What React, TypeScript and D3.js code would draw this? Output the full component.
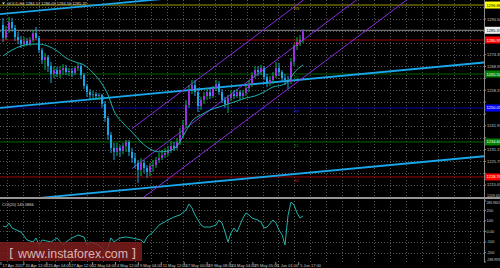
import React from 'react';
import * as d3 from 'd3';

// ---------- data ----------
const headerText = 'GOLD,H4  1284.57 1286.09 1284.56 1285.37';
const cciTitle = 'CCI(20) 145.5866';

const opens = [1287.8,1281.9,1285.5,1289.1,1286.4,1282.3,1281.0,1279.1,1280.5,1279.1,1281.0,1284.1,1281.9,1276.4,1271.9,1273.2,1269.1,1265.5,1267.3,1265.5,1267.3,1268.2,1266.4,1266.9,1266.0,1268.2,1269.1,1265.0,1260.1,1257.3,1256.0,1256.4,1255.5,1256.0,1251.9,1245.5,1237.8,1231.9,1230.1,1231.9,1230.5,1232.8,1234.6,1230.1,1227.3,1225.1,1221.9,1225.1,1222.8,1221.0,1223.7,1224.1,1226.4,1227.3,1228.7,1229.6,1231.0,1232.8,1231.9,1234.6,1237.8,1242.3,1251.4,1258.2,1260.5,1257.3,1251.0,1253.7,1255.5,1257.3,1255.5,1259.1,1261.0,1257.3,1253.7,1251.9,1254.6,1256.4,1255.5,1257.3,1255.5,1256.9,1259.1,1261.0,1265.0,1267.3,1266.4,1268.2,1264.1,1261.4,1262.8,1264.6,1268.2,1266.4,1263.7,1262.8,1261.9,1271.0,1278.2,1280.0,1281.0];
const highs = [1291.0,1287.3,1291.4,1291.0,1287.8,1284.6,1282.8,1282.3,1281.9,1282.3,1285.5,1286.9,1282.8,1277.3,1275.0,1274.1,1271.0,1269.1,1268.7,1269.1,1270.0,1269.6,1268.2,1268.2,1269.1,1270.5,1270.0,1266.0,1261.0,1258.7,1257.8,1257.3,1256.9,1256.4,1253.2,1246.4,1239.1,1234.1,1234.1,1233.2,1234.1,1235.5,1235.5,1231.9,1229.6,1226.4,1227.3,1226.4,1224.1,1225.1,1226.4,1227.8,1229.6,1231.0,1231.9,1232.8,1235.1,1234.6,1236.4,1241.0,1244.6,1253.7,1260.5,1262.8,1262.8,1259.1,1255.1,1257.3,1259.1,1258.7,1260.1,1262.8,1262.3,1258.7,1255.1,1256.0,1258.2,1258.2,1258.7,1258.2,1258.2,1261.0,1262.8,1266.4,1269.1,1269.1,1269.6,1269.1,1265.5,1264.6,1266.4,1271.0,1270.5,1267.3,1265.5,1264.6,1272.8,1279.1,1282.3,1283.2,1285.9];
const lows = [1280.0,1281.0,1284.1,1285.0,1280.5,1279.1,1277.3,1277.8,1278.2,1278.2,1280.0,1281.0,1275.0,1270.0,1267.3,1266.4,1261.4,1263.7,1264.1,1263.7,1265.0,1265.0,1264.6,1264.1,1265.0,1266.9,1263.2,1258.7,1255.1,1254.1,1253.7,1254.1,1253.7,1250.1,1243.7,1235.5,1229.6,1226.4,1228.2,1227.8,1229.1,1230.1,1228.2,1225.1,1222.8,1216.0,1219.1,1220.5,1218.2,1219.1,1221.0,1222.8,1225.1,1226.4,1227.3,1228.2,1229.6,1230.5,1231.0,1233.2,1236.4,1241.0,1250.1,1256.4,1255.5,1248.2,1249.1,1251.9,1253.7,1254.1,1254.6,1257.8,1256.0,1252.3,1250.1,1247.8,1253.2,1254.1,1254.6,1253.7,1254.1,1255.5,1257.3,1259.6,1263.7,1264.6,1265.0,1262.8,1259.6,1260.1,1261.0,1263.7,1264.6,1261.9,1260.5,1258.7,1261.0,1269.1,1276.4,1278.2,1279.6];
const closes = [1281.9,1285.5,1289.1,1286.4,1282.3,1281.0,1279.1,1280.5,1279.1,1281.0,1284.1,1281.9,1276.4,1271.9,1273.2,1269.1,1265.5,1267.3,1265.5,1267.3,1268.2,1266.4,1266.9,1266.0,1268.2,1269.1,1265.0,1260.1,1257.3,1256.0,1256.4,1255.5,1256.0,1251.9,1245.5,1237.8,1231.9,1230.1,1231.9,1230.5,1232.8,1234.6,1230.1,1227.3,1225.1,1221.9,1225.1,1222.8,1221.0,1223.7,1224.1,1226.4,1227.3,1228.7,1229.6,1231.0,1232.8,1231.9,1234.6,1237.8,1242.3,1251.4,1258.2,1260.5,1257.3,1251.0,1253.7,1255.5,1257.3,1255.5,1259.1,1261.0,1257.3,1253.7,1251.9,1254.6,1256.4,1255.5,1257.3,1255.5,1256.9,1259.1,1261.0,1265.0,1267.3,1266.4,1268.2,1264.1,1261.4,1262.8,1264.6,1268.2,1266.4,1263.7,1262.8,1261.9,1271.0,1278.2,1280.0,1281.0,1285.4];

const maBars = [0,3,6,9,12,15,18,21,24,27,30,33,35,37,40,43,46,49,52,55,58,61,63,66,69,72,75,78,81,84,87,90,93,95,97,100];
const maValues = [1273.7,1276.4,1278.2,1279.1,1279.1,1278.2,1276.0,1272.8,1271.0,1269.6,1266.0,1261.0,1256.0,1248.7,1243.2,1239.1,1234.6,1231.4,1230.1,1230.5,1232.8,1239.6,1244.1,1246.9,1249.1,1250.5,1251.9,1253.2,1254.6,1255.5,1257.3,1259.6,1260.5,1261.9,1266.0,1269.6];

const cciBars = [0,1,2,3,6,8,10,11,12,13,16,18,20,21,23,25,27,28,29,30,32,34,35,36,37,39,41,43,46,47,48,50,52,55,57,59,61,62,63,64,66,67,69,71,72,73,74,75,76,77,78,80,81,82,83,85,86,87,88,90,91,92,93,94,95,96,97,98,99,100];
const cciValues = [51,41,79,32,-6,-81,-100,-62,-128,-81,-100,-62,-128,-100,-62,-34,-53,-128,-100,-109,-128,-190,-150,-62,-100,-62,-53,-62,-81,-109,-53,-6,60,107,136,155,202,259,221,155,60,41,41,60,107,79,-6,-100,-15,32,-6,126,174,155,126,107,88,32,41,107,79,13,-30,-128,150,277,250,174,126,145.59];

const priceTicks = [1295.90,1290.50,1285.10,1279.75,1274.35,1268.95,1263.55,1258.15,1252.75,1247.35,1241.95,1236.55,1231.15,1225.75,1220.40,1215.05];
const mainBottomLabel = '1209.65';

const pivotNames = ['R3','R2','R1','PP','S1','S2'];
const pivotValues = [1296.86,1280.95,1265.50,1250.05,1234.60,1218.70];
const bidPrice = 1285.37;

// wide cyan channel (bar, price) anchors of the median line; offset of the outer lines
const cyanBars = [0,100];
const cyanMid = [1250.2,1263.0];
const cyanOffset = 42.6;

// purple channel anchors
const purpleBars = [43,100];
const purpleTop = [1240.7,1299.0];
const purpleMid = [1222.5,1280.9];
const purpleLow = [1205.5,1263.8];

const cciTickValues = [286.96,200,100,0,-100,-200,-288.99];
const cciTickLabels = ['286.9605','200','100','0.00','-100','-200','-288.9935'];
const cciGridValues = [200,100,0,-100,-200];

const timeLabels = ['17 Apr 2017','20 Apr 12:00','25 Apr 04:00','27 Apr 12:00','2 May 04:00','4 May 12:00','9 May 04:00','11 May 12:00','17 May 00:00','19 May 08:00','24 May 04:00','29 May 05:00','1 Jun 01:00','5 Jun 17:00'];

// ---------- styles ----------
const pivotLine = ['#9a9a00','#a00000','#006400','#0000a0','#006400','#a00000'];
const pivotBg = ['#ffff00','#ff0000','#008000','#0000ff','#008000','#ff0000'];
const pivotFg = ['#000','#fff','#fff','#fff','#fff','#fff'];
const pivotTxt = ['#b0b000','#d02020','#008000','#2020ff','#008000','#d02020'];

const BULL_BODY = '#9b30e0';
const BULL_WICK = '#00b84a';
const BEAR = '#1ea4e4';
const CYAN_LINE = '#1aa6ea';
const PURPLE = '#8a2be2';
const MA_COLOR = '#20b2aa';
const GRID = '#555';
const AXIS_TXT = '#c8c8c8';
const FONT = 'Liberation Sans, Arial, sans-serif';

const PLOT_R = 484;
const MAIN_T = 0;
const MAIN_B = 197;
const CCI_T = 201;
const CCI_B = 262;

export default function App() {
  React.useEffect(() => {
    document.body.style.margin = '0';
    document.body.style.background = '#000';
  }, []);

  const x = d3.scaleLinear().domain([0, 100]).range([3, 303]);
  const y = d3.scaleLinear().domain([1209.59, 1299.14]).range([MAIN_B, MAIN_T]);
  const yc = d3.scaleLinear().domain([-288.99, 286.96]).range([CCI_B, CCI_T]);
  const lastBar = x.invert(PLOT_R);
  const firstBar = x.invert(0);

  const seg = (bars: number[], vals: number[], from: number, to: number) => {
    const s = (vals[1] - vals[0]) / (bars[1] - bars[0]);
    const at = (b: number) => vals[0] + s * (b - bars[0]);
    return { x1: x(from), y1: y(at(from)), x2: x(to), y2: y(at(to)) };
  };

  const vGrid = d3.range(0, 30).map(k => 7.3 + 15.95 * k).filter(v => v < PLOT_R);

  const maLine = d3.line<number>()
    .x((_, k) => x(maBars[k]))
    .y(v => y(v))
    .curve(d3.curveMonotoneX);

  const cciLine = d3.line<number>()
    .x((_, k) => x(cciBars[k]))
    .y(v => yc(v));

  const cyanLines = [-cyanOffset, 0, cyanOffset].map(off =>
    seg(cyanBars, cyanMid.map(v => v + off), firstBar, lastBar));
  const purpleLines = [purpleTop, purpleMid, purpleLow].map(v => seg(purpleBars, v, purpleBars[0], lastBar));

  // tick labels hidden where a coloured price label sits on top of them
  const covered = (p: number) =>
    pivotValues.concat([bidPrice]).some(v => Math.abs(y(v) - y(p)) < 6);

  return (
    <svg width={500} height={268} style={{ position: 'fixed', left: 0, top: 0, background: '#000' }} fontFamily={FONT}>
      <defs>
        <clipPath id="mainClip"><rect x={0} y={MAIN_T} width={PLOT_R} height={MAIN_B - MAIN_T} /></clipPath>
        <clipPath id="cciClip"><rect x={0} y={CCI_T - 1} width={PLOT_R} height={CCI_B - CCI_T + 1} /></clipPath>
      </defs>
      <rect x={0} y={0} width={500} height={268} fill="#000" />

      {/* grid main */}
      <g stroke={GRID} strokeWidth={1} strokeDasharray="1,2">
        {priceTicks.map((p, i) => (
          <line key={'hg' + i} x1={0} x2={PLOT_R} y1={Math.round(y(p)) + 0.5} y2={Math.round(y(p)) + 0.5} />
        ))}
        {vGrid.map((gx, i) => (
          <line key={'vg' + i} x1={Math.round(gx) + 0.5} x2={Math.round(gx) + 0.5} y1={MAIN_T} y2={MAIN_B} />
        ))}
        {cciGridValues.map((v, i) => (
          <line key={'cg' + i} x1={0} x2={PLOT_R} y1={Math.round(yc(v)) + 0.5} y2={Math.round(yc(v)) + 0.5} />
        ))}
        {vGrid.map((gx, i) => (
          <line key={'vc' + i} x1={Math.round(gx) + 0.5} x2={Math.round(gx) + 0.5} y1={CCI_T} y2={CCI_B} />
        ))}
      </g>

      <g clipPath="url(#mainClip)">
        {/* pivot lines */}
        {pivotValues.map((p, i) => (
          <line key={'pv' + i} x1={0} x2={PLOT_R} y1={y(p)} y2={y(p)} stroke={pivotLine[i]} strokeWidth={1} />
        ))}
        {/* bid line */}
        <line x1={0} x2={PLOT_R} y1={y(bidPrice)} y2={y(bidPrice)} stroke="#8c8c8c" strokeWidth={1} />

        {/* cyan wide channel */}
        {cyanLines.map((l, i) => (
          <line key={'cy' + i} {...l} stroke={CYAN_LINE} strokeWidth={1.8} />
        ))}
        {/* purple channel */}
        {purpleLines.map((l, i) => (
          <line key={'pu' + i} {...l} stroke={PURPLE} strokeWidth={1} />
        ))}

        {/* candles */}
        {opens.map((o, i) => {
          const c = closes[i];
          const bull = c >= o;
          const cx = x(i);
          const top = y(Math.max(o, c));
          const bot = y(Math.min(o, c));
          return (
            <g key={'c' + i}>
              <line x1={cx} x2={cx} y1={y(highs[i])} y2={y(lows[i])} stroke={bull ? BULL_WICK : BEAR} strokeWidth={1} />
              <rect x={cx - 1} y={top} width={2} height={Math.max(1, bot - top)} fill={bull ? BULL_BODY : BEAR} />
            </g>
          );
        })}

        {/* moving average */}
        <path d={maLine(maValues) || ''} fill="none" stroke={MA_COLOR} strokeWidth={1} />

        {/* pivot labels on chart */}
        {pivotValues.map((p, i) => (
          <text key={'pl' + i} x={294} y={y(p) + 5} fontSize={4} fill={pivotTxt[i]}>{pivotNames[i]}</text>
        ))}
      </g>

      {/* header */}
      <path d="M2,2.5 L5,2.5 L3.5,4.5 Z" fill="#ddd" />
      <text x={7} y={5} fontSize={4} fill="#ddd">{headerText}</text>

      {/* separators */}
      <line x1={0} x2={500} y1={198} y2={198} stroke="#c8c8c8" strokeWidth={1.5} />
      <line x1={PLOT_R + 0.5} x2={PLOT_R + 0.5} y1={0} y2={CCI_B} stroke="#8a8a8a" strokeWidth={1} />

      {/* price axis labels */}
      {priceTicks.map((p, i) => (
        <g key={'pt' + i}>
          <line x1={PLOT_R} x2={PLOT_R + 2} y1={y(p)} y2={y(p)} stroke="#8a8a8a" />
          {!covered(p) && (
            <text x={487} y={y(p) + 1.5} fontSize={4} fill={AXIS_TXT}>{p.toFixed(2)}</text>
          )}
        </g>
      ))}
      <text x={487} y={196.5} fontSize={3.6} fill={AXIS_TXT}>{mainBottomLabel}</text>

      {/* pivot axis labels */}
      {pivotValues.map((p, i) => (
        <g key={'pa' + i}>
          <rect x={PLOT_R + 1} y={y(p) - 3.5} width={15} height={7} fill={pivotBg[i]} />
          <text x={486.5} y={y(p) + 1.5} fontSize={4} fill={pivotFg[i]}>{p.toFixed(2)}</text>
        </g>
      ))}
      <rect x={PLOT_R + 1} y={y(bidPrice) - 3.5} width={15} height={7} fill="#f0f0f0" />
      <text x={486.5} y={y(bidPrice) + 1.5} fontSize={4} fill="#000">{bidPrice.toFixed(2)}</text>

      {/* CCI */}
      <g clipPath="url(#cciClip)">
        <path d={cciLine(cciValues) || ''} fill="none" stroke={MA_COLOR} strokeWidth={1} />
      </g>
      <text x={2} y={206} fontSize={4} fill="#ddd">{cciTitle}</text>
      {cciTickValues.map((v, i) => {
        const ty = Math.min(Math.max(yc(v) + 1.5, 204), 261);
        return (
          <g key={'ct' + i}>
            <line x1={PLOT_R} x2={PLOT_R + 2} y1={yc(v)} y2={yc(v)} stroke="#8a8a8a" />
            <text x={486.5} y={ty} fontSize={cciTickLabels[i].length > 5 ? 3.3 : 4} fill={AXIS_TXT}>{cciTickLabels[i]}</text>
          </g>
        );
      })}

      {/* time axis */}
      {timeLabels.map((t, k) => {
        const tx = 1 + 22.9 * k;
        return (
          <g key={'tl' + k}>
            <line x1={tx} x2={tx} y1={CCI_B} y2={CCI_B + 3} stroke="#8a8a8a" />
            <text x={tx + 1.5} y={266.5} fontSize={4} fill={AXIS_TXT}>{t}</text>
          </g>
        );
      })}

      {/* watermark */}
      <rect x={0} y={242} width={142} height={19} fill="#7c1c1c" opacity={0.85} />
      <text x={9} y={258} fontSize={13} fill="#dcb4b4" fontFamily="DejaVu Sans, sans-serif">[</text>
      <text x={18} y={257.5} fontSize={12} fill="#dcb4b4" fontFamily="Liberation Sans, Arial, sans-serif" textLength={110} lengthAdjust="spacingAndGlyphs">www.instaforex.com</text>
      <text x={131} y={258} fontSize={13} fill="#dcb4b4" fontFamily="DejaVu Sans, sans-serif">]</text>
    </svg>
  );
}
